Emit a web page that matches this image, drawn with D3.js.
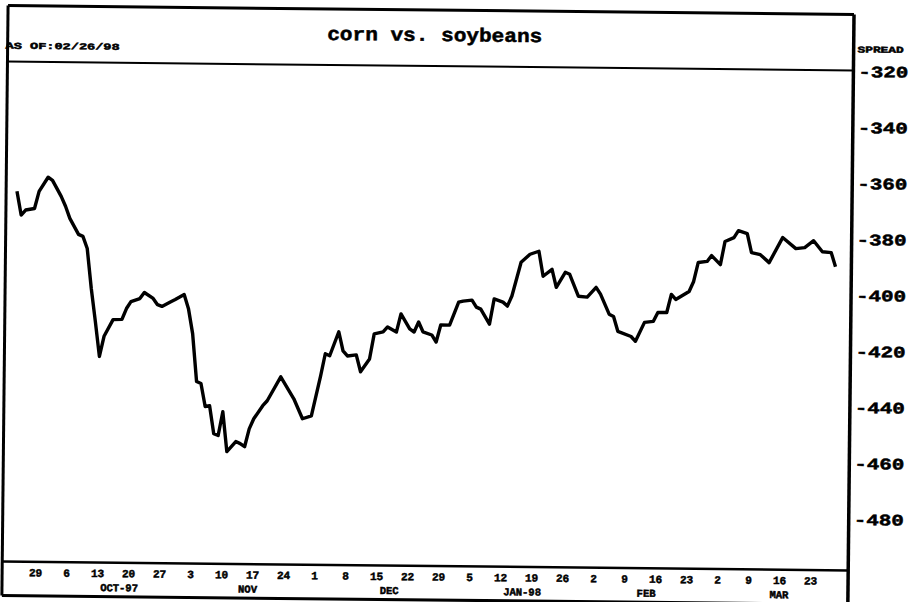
<!DOCTYPE html>
<html lang="en">
<head>
<meta charset="UTF-8">
<title>corn vs. soybeans</title>
<script src="https://cdnjs.cloudflare.com/ajax/libs/d3/7.8.5/d3.min.js"></script>
<style>
  body { margin: 0; background: #fff; }
  svg { display: block; }
  text { font-family: "Liberation Mono", "DejaVu Sans Mono", monospace; font-weight: bold; fill: #000; stroke: #000; stroke-width: 0.5px; }
</style>
</head>
<body>
<svg width="915" height="602"></svg>
<script>
    // daily spread
    const dates = [
        "1997-09-24","1997-09-25","1997-09-26","1997-09-28","1997-09-29","1997-10-01","1997-10-02","1997-10-04","1997-10-05","1997-10-06",
        "1997-10-08","1997-10-09","1997-10-10","1997-10-11","1997-10-12","1997-10-13","1997-10-14","1997-10-16","1997-10-18","1997-10-19",
        "1997-10-20","1997-10-22","1997-10-23","1997-10-25","1997-10-26","1997-10-27","1997-10-29","1997-10-30","1997-11-01","1997-11-02",
        "1997-11-03","1997-11-04","1997-11-05","1997-11-06","1997-11-07","1997-11-08","1997-11-09","1997-11-10","1997-11-11","1997-11-13",
        "1997-11-14","1997-11-15","1997-11-16","1997-11-17","1997-11-19","1997-11-20","1997-11-23","1997-11-26","1997-11-28","1997-11-30",
        "1997-12-01","1997-12-02","1997-12-03","1997-12-04","1997-12-06","1997-12-07","1997-12-08","1997-12-10","1997-12-11","1997-12-13",
        "1997-12-14","1997-12-16","1997-12-17","1997-12-19","1997-12-20","1997-12-22","1997-12-23","1997-12-24","1997-12-25","1997-12-27",
        "1997-12-28","1997-12-29","1997-12-31","1998-01-02","1998-01-03","1998-01-05","1998-01-06","1998-01-07","1998-01-09","1998-01-10",
        "1998-01-12","1998-01-13","1998-01-14","1998-01-16","1998-01-18","1998-01-20","1998-01-21","1998-01-23","1998-01-24","1998-01-26",
        "1998-01-27","1998-01-29","1998-01-31","1998-02-02","1998-02-03","1998-02-05","1998-02-06","1998-02-07","1998-02-10","1998-02-11",
        "1998-02-13","1998-02-15","1998-02-16","1998-02-18","1998-02-19","1998-02-20","1998-02-23","1998-02-24","1998-02-25","1998-02-27",
        "1998-02-28","1998-03-02","1998-03-03","1998-03-05","1998-03-06","1998-03-08","1998-03-09","1998-03-11","1998-03-13","1998-03-16",
        "1998-03-19","1998-03-21","1998-03-23","1998-03-25","1998-03-27","1998-03-28"
    ];
    const spread = [
        -365.9, -374.4, -372.6, -372.0, -365.9, -360.8, -361.9, -367.6, -371.1, -375.4,
        -381.1, -381.8, -386.1, -400.3, -412.1, -424.6, -417.4, -411.4, -411.3, -407.4,
        -404.9, -403.8, -401.6, -403.7, -405.9, -406.5, -404.8, -404.0, -402.2, -407.2,
        -416.1, -433.2, -433.9, -442.1, -441.8, -451.8, -452.4, -443.9, -458.1, -454.5,
        -455.2, -456.3, -449.9, -446.3, -441.6, -439.8, -431.2, -439.0, -446.1, -445.0,
        -437.9, -430.7, -422.8, -423.5, -414.9, -421.7, -423.5, -423.1, -429.1, -424.5,
        -415.5, -414.8, -413.0, -414.8, -408.3, -413.6, -414.7, -411.1, -414.6, -415.7,
        -418.2, -412.1, -412.1, -403.9, -403.5, -403.1, -405.6, -406.3, -411.6, -402.6,
        -403.7, -405.1, -401.5, -389.4, -386.5, -385.4, -394.3, -391.8, -398.2, -392.8,
        -393.5, -401.3, -401.6, -398.1, -400.5, -407.6, -408.4, -413.7, -415.5, -417.2,
        -410.4, -410.0, -406.8, -406.8, -400.3, -402.1, -399.2, -395.6, -388.8, -388.4,
        -386.3, -389.5, -381.2, -379.8, -377.3, -378.3, -385.1, -385.8, -388.6, -379.6,
        -383.5, -383.1, -380.6, -384.5, -384.8, -389.8
    ];

    const yTicks = [-320, -340, -360, -380, -400, -420, -440, -460, -480];

    const weekTicks = [
        "1997-09-29","1997-10-06","1997-10-13","1997-10-20","1997-10-27","1997-11-03","1997-11-10","1997-11-17","1997-11-24",
        "1997-12-01","1997-12-08","1997-12-15","1997-12-22","1997-12-29","1998-01-05","1998-01-12","1998-01-19","1998-01-26",
        "1998-02-02","1998-02-09","1998-02-16","1998-02-23","1998-03-02","1998-03-09","1998-03-16","1998-03-23"
    ];
    const weekLabels = ["29","6","13","20","27","3","10","17","24","1","8","15","22","29","5","12","19","26","2","9","16","23","2","9","16","23"];

    const monthNames = ["OCT-97", "NOV", "DEC", "JAN-98", "FEB", "MAR"];
    const monthDates = ["1997-10-18", "1997-11-16", "1997-12-18", "1998-01-17", "1998-02-14", "1998-03-16"];

    const parse = d3.timeParse("%Y-%m-%d");
    const data = dates.map((d, i) => ({ date: parse(d), value: spread[i] }));

    // frame edges
    const boxLeft = 5, boxRight = 851, boxTop = 10, titleBottom = 66, plotBottom = 566, boxBottom = 600;

    const svg = d3.select("svg");
    // the scanned page sits a little crooked
    const g = svg.append("g").attr("transform", "rotate(0.6 430 300)");

    const x = d3.scaleTime()
        .domain([parse("1997-09-29"), parse("1998-03-23")])
        .range([38, 813]);

    const y = d3.scaleLinear()
        .domain([-480, -320])
        .range([515, 67]);

    // box lines
    const frame = [
        [boxLeft, boxTop, boxRight, boxTop, 3],
        [boxLeft, boxTop, boxLeft, boxBottom, 3],
        [boxLeft, titleBottom, boxRight, titleBottom, 2],
        [boxLeft, plotBottom, boxRight, plotBottom, 2.5],
        [boxLeft, boxBottom, boxRight, boxBottom, 3],
        [boxRight, boxTop, boxRight, 615, 3.5]
    ];
    g.selectAll("line.frame")
        .data(frame)
        .enter()
        .append("line")
        .attr("class", "frame")
        .attr("x1", d => d[0]).attr("y1", d => d[1])
        .attr("x2", d => d[2]).attr("y2", d => d[3])
        .attr("stroke", "#000")
        .attr("stroke-width", d => d[4]);

    // title and corner texts
    g.append("text")
        .attr("x", 432).attr("y", 41)
        .attr("text-anchor", "middle")
        .attr("font-size", 19)
        .attr("textLength", 215)
        .attr("lengthAdjust", "spacingAndGlyphs")
        .text("corn vs. soybeans");

    g.append("text")
        .attr("x", 3).attr("y", 53)
        .attr("font-size", 9)
        .attr("textLength", 114)
        .attr("lengthAdjust", "spacingAndGlyphs")
        .text("AS OF:02/26/98");

    g.append("text")
        .attr("x", 855).attr("y", 48)
        .attr("font-size", 9)
        .attr("textLength", 46)
        .attr("lengthAdjust", "spacingAndGlyphs")
        .text("SPREAD");

    // right value axis
    const yAxis = g.append("g")
        .attr("transform", `translate(${boxRight},0)`)
        .call(d3.axisRight(y).tickValues(yTicks).tickSize(0).tickPadding(5)
            .tickFormat(d => "-" + Math.abs(d)));
    yAxis.select(".domain").remove();
    yAxis.selectAll("text")
        .attr("font-family", null)
        .attr("font-size", 16)
        .attr("textLength", 50)
        .attr("lengthAdjust", "spacingAndGlyphs");

    // weekly date axis
    const xAxis = g.append("g")
        .attr("transform", `translate(0,${plotBottom})`)
        .call(d3.axisBottom(x).tickValues(weekTicks.map(parse)).tickSize(0)
            .tickFormat((d, i) => weekLabels[i]));
    xAxis.select(".domain").remove();
    xAxis.selectAll("text")
        .attr("font-family", null)
        .attr("font-size", 11)
        .attr("y", 14.5)
        .attr("dy", null);

    g.selectAll("text.month")
        .data(monthNames)
        .enter()
        .append("text")
        .attr("class", "month")
        .attr("x", (d, i) => x(parse(monthDates[i])))
        .attr("y", 594.5)
        .attr("text-anchor", "middle")
        .attr("font-size", 10.5)
        .text(d => d);

    // the spread line
    const line = d3.line()
        .x(d => x(d.date))
        .y(d => y(d.value));

    g.append("path")
        .datum(data)
        .attr("d", line)
        .attr("fill", "none")
        .attr("stroke", "#000")
        .attr("stroke-width", 3.4)
        .attr("stroke-linejoin", "round");
</script>
</body>
</html>
